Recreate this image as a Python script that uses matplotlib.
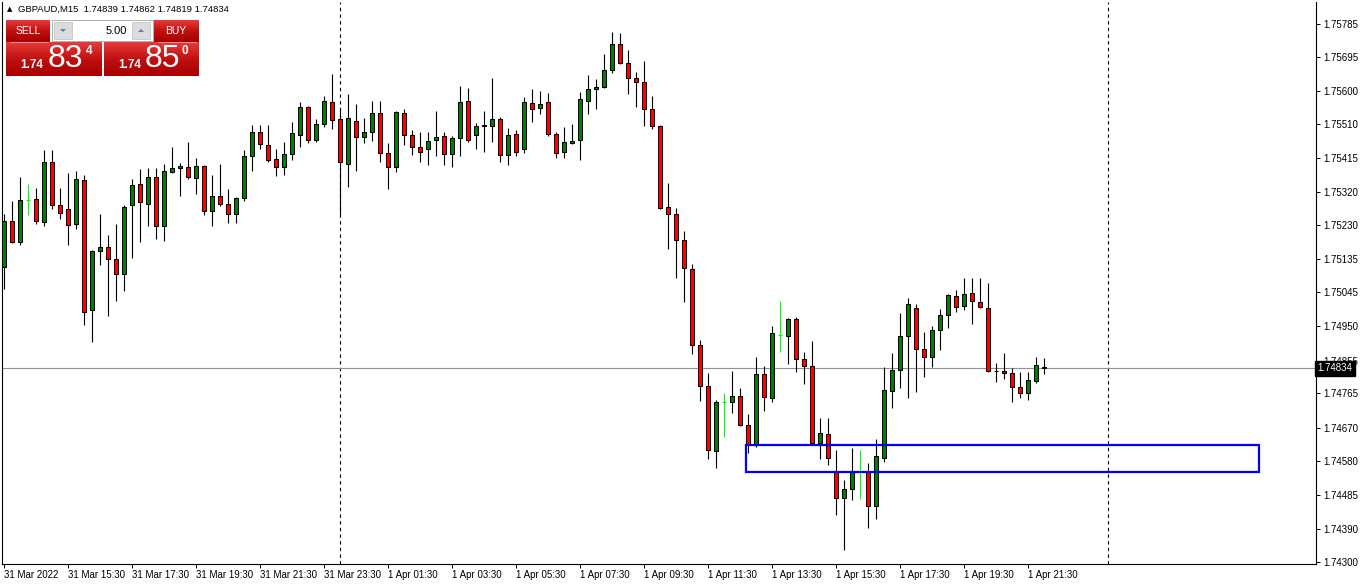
import numpy as np
import matplotlib
matplotlib.use("Agg")
import matplotlib.pyplot as plt
from matplotlib.patches import Rectangle, Polygon
from matplotlib.colors import LinearSegmentedColormap

plt.rcParams['font.family'] = ['Liberation Sans', 'DejaVu Sans']

# GBPAUD M15 bars, 31 Mar 13:30 -> 1 Apr 22:00
opens = [
    1.75114, 1.75241, 1.75183, 1.75299, 1.75302, 1.75238, 1.75404, 1.75285, 1.75274, 1.75233,
    1.75354, 1.74995, 1.75158, 1.75169, 1.75136, 1.75095, 1.75285, 1.75343, 1.75288, 1.75362,
    1.75227, 1.75376, 1.75387, 1.75390, 1.75360, 1.75393, 1.75269, 1.75310, 1.75288, 1.75260,
    1.75305, 1.75420, 1.75487, 1.75451, 1.75412, 1.75390, 1.75426, 1.75478, 1.75556, 1.75465,
    1.75509, 1.75569, 1.75523, 1.75398, 1.75517, 1.75473, 1.75487, 1.75539, 1.75429, 1.75390,
    1.75539, 1.75478, 1.75445, 1.75440, 1.75465, 1.75476, 1.75426, 1.75470, 1.75572, 1.75478,
    1.75502, 1.75503, 1.75523, 1.75423, 1.75481, 1.75440, 1.75567, 1.75553, 1.75569, 1.75481,
    1.75431, 1.75456, 1.75465, 1.75572, 1.75605, 1.75611, 1.75658, 1.75730, 1.75677, 1.75636,
    1.75625, 1.75550, 1.75503, 1.75280, 1.75260, 1.75189, 1.75109, 1.74899, 1.74786, 1.74606,
    1.74741, 1.74741, 1.74758, 1.74678, 1.74623, 1.74819, 1.74753, 1.74926, 1.74924, 1.74971,
    1.74860, 1.74841, 1.74628, 1.74653, 1.74551, 1.74477, 1.74501, 1.74551, 1.74548, 1.74454,
    1.74587, 1.74772, 1.74830, 1.74924, 1.75001, 1.74888, 1.74866, 1.74940, 1.74982, 1.75034,
    1.75006, 1.75042, 1.75017, 1.75001, 1.74827, 1.74827, 1.74822, 1.74783, 1.74766, 1.74799,
    1.74839,
]
highs = [
    1.75260, 1.75296, 1.75362, 1.75343, 1.75332, 1.75437, 1.75437, 1.75332, 1.75374, 1.75379,
    1.75368, 1.75161, 1.75260, 1.75202, 1.75233, 1.75285, 1.75357, 1.75385, 1.75387, 1.75387,
    1.75398, 1.75445, 1.75401, 1.75459, 1.75415, 1.75396, 1.75368, 1.75398, 1.75329, 1.75307,
    1.75437, 1.75506, 1.75506, 1.75506, 1.75440, 1.75459, 1.75514, 1.75569, 1.75558, 1.75523,
    1.75586, 1.75647, 1.75553, 1.75592, 1.75564, 1.75525, 1.75572, 1.75572, 1.75456, 1.75545,
    1.75550, 1.75492, 1.75487, 1.75487, 1.75545, 1.75487, 1.75476, 1.75614, 1.75608, 1.75512,
    1.75545, 1.75636, 1.75528, 1.75498, 1.75492, 1.75583, 1.75605, 1.75600, 1.75594, 1.75487,
    1.75500, 1.75509, 1.75597, 1.75644, 1.75633, 1.75702, 1.75763, 1.75760, 1.75713, 1.75652,
    1.75683, 1.75586, 1.75506, 1.75346, 1.75277, 1.75213, 1.75122, 1.74913, 1.74822, 1.74747,
    1.74766, 1.74827, 1.74780, 1.74708, 1.74866, 1.74841, 1.74951, 1.75020, 1.74973, 1.74976,
    1.74879, 1.74910, 1.74697, 1.74697, 1.74609, 1.74526, 1.74615, 1.74609, 1.74573, 1.74639,
    1.74838, 1.74877, 1.74987, 1.75029, 1.75012, 1.74935, 1.74951, 1.74998, 1.75040, 1.75051,
    1.75084, 1.75084, 1.75084, 1.75070, 1.74849, 1.74877, 1.74835, 1.74824, 1.74824, 1.74866,
    1.74862,
]
lows = [
    1.75053, 1.75180, 1.75175, 1.75258, 1.75233, 1.75227, 1.75274, 1.75247, 1.75175, 1.75219,
    1.74954, 1.74907, 1.75120, 1.74979, 1.75020, 1.75048, 1.75139, 1.75183, 1.75227, 1.75191,
    1.75186, 1.75374, 1.75310, 1.75357, 1.75316, 1.75258, 1.75227, 1.75282, 1.75236, 1.75236,
    1.75296, 1.75379, 1.75440, 1.75404, 1.75365, 1.75368, 1.75409, 1.75445, 1.75456, 1.75459,
    1.75500, 1.75495, 1.75258, 1.75335, 1.75379, 1.75456, 1.75462, 1.75404, 1.75329, 1.75376,
    1.75451, 1.75423, 1.75404, 1.75396, 1.75420, 1.75396, 1.75390, 1.75420, 1.75459, 1.75440,
    1.75431, 1.75459, 1.75404, 1.75396, 1.75420, 1.75429, 1.75514, 1.75536, 1.75476, 1.75415,
    1.75415, 1.75453, 1.75409, 1.75536, 1.75550, 1.75608, 1.75650, 1.75674, 1.75592, 1.75556,
    1.75503, 1.75495, 1.75274, 1.75164, 1.75084, 1.75017, 1.74874, 1.74744, 1.74584, 1.74559,
    1.74645, 1.74711, 1.74675, 1.74601, 1.74617, 1.74717, 1.74741, 1.74879, 1.74846, 1.74824,
    1.74791, 1.74623, 1.74584, 1.74568, 1.74430, 1.74333, 1.74471, 1.74474, 1.74394, 1.74419,
    1.74576, 1.74725, 1.74780, 1.74753, 1.74769, 1.74810, 1.74838, 1.74885, 1.74946, 1.74990,
    1.74995, 1.74957, 1.75001, 1.74824, 1.74797, 1.74805, 1.74741, 1.74753, 1.74747, 1.74794,
    1.74819,
]
closes = [
    1.75241, 1.75183, 1.75299, 1.75299, 1.75241, 1.75404, 1.75285, 1.75263, 1.75230, 1.75357,
    1.74990, 1.75158, 1.75169, 1.75136, 1.75095, 1.75280, 1.75340, 1.75293, 1.75362, 1.75227,
    1.75379, 1.75387, 1.75393, 1.75362, 1.75393, 1.75269, 1.75310, 1.75288, 1.75260, 1.75305,
    1.75420, 1.75487, 1.75454, 1.75409, 1.75390, 1.75426, 1.75484, 1.75556, 1.75465, 1.75509,
    1.75572, 1.75520, 1.75404, 1.75525, 1.75473, 1.75487, 1.75539, 1.75429, 1.75390, 1.75542,
    1.75478, 1.75445, 1.75431, 1.75462, 1.75473, 1.75426, 1.75470, 1.75569, 1.75465, 1.75503,
    1.75505, 1.75523, 1.75423, 1.75478, 1.75431, 1.75569, 1.75550, 1.75564, 1.75481, 1.75429,
    1.75459, 1.75462, 1.75578, 1.75605, 1.75611, 1.75658, 1.75730, 1.75677, 1.75636, 1.75625,
    1.75550, 1.75503, 1.75277, 1.75260, 1.75189, 1.75111, 1.74899, 1.74786, 1.74609, 1.74741,
    1.74741, 1.74758, 1.74678, 1.74623, 1.74819, 1.74755, 1.74932, 1.74926, 1.74971, 1.74860,
    1.74841, 1.74628, 1.74656, 1.74587, 1.74477, 1.74501, 1.74551, 1.74551, 1.74454, 1.74592,
    1.74775, 1.74830, 1.74924, 1.75012, 1.74888, 1.74866, 1.74940, 1.74982, 1.75037, 1.75004,
    1.75040, 1.75020, 1.75004, 1.74827, 1.74826, 1.74822, 1.74783, 1.74766, 1.74802, 1.74844,
    1.74834,
]

time_labels = ["31 Mar 2022", "31 Mar 15:30", "31 Mar 17:30", "31 Mar 19:30", "31 Mar 21:30",
               "31 Mar 23:30", "1 Apr 01:30", "1 Apr 03:30", "1 Apr 05:30", "1 Apr 07:30",
               "1 Apr 09:30", "1 Apr 11:30", "1 Apr 13:30", "1 Apr 15:30", "1 Apr 17:30",
               "1 Apr 19:30", "1 Apr 21:30"]
label_every = 8            # bars between time labels (2 hours)
day_breaks = [42, 138]     # bar index of 1 Apr 00:00 and 2 Apr 00:00

price_ticks = [1.75785, 1.75695, 1.75600, 1.75510, 1.75415, 1.75320, 1.75230, 1.75135,
               1.75045, 1.74950, 1.74855, 1.74765, 1.74670, 1.74580, 1.74485, 1.74390, 1.74300]

zone_start, zone_end = 92.75, 156.9   # bar positions of the drawn rectangle
zone_low, zone_high = 1.74549, 1.74624

W, H = 1362, 585
fig = plt.figure(figsize=(W / 100, H / 100), dpi=100)
ax = fig.add_axes([2 / W, (H - 564) / H, (1316 - 2) / W, (564 - 2) / H])
ax.set_xlim(-0.25, 164)
ax.set_ylim(1.742944, 1.758455)

BULL, BEAR, DOJI = "#008000", "#ff0000", "#00ff00"
bw = 0.5
for i in range(len(opens)):
    o, h, l, c = opens[i], highs[i], lows[i], closes[i]
    if o == c:
        ax.vlines(i, l, h, color=DOJI, lw=0.8, zorder=3)
        ax.hlines(o, i - 0.3, i + 0.3, color=DOJI, lw=0.8, zorder=3)
        continue
    ax.vlines(i, l, h, color="black", lw=0.8, zorder=2)
    ax.add_patch(Rectangle((i - bw / 2, min(o, c)), bw, abs(c - o),
                           facecolor=BULL if c > o else BEAR, edgecolor="black",
                           lw=0.75, zorder=3))

# day separators
for b in day_breaks:
    ax.axvline(b, color="black", lw=0.8, ls=(0, (3, 3)), zorder=1)

# current price line
ax.axhline(closes[-1], color="#8a9298", lw=0.8, zorder=1)

# zone rectangle
ax.add_patch(Rectangle((zone_start, zone_low), zone_end - zone_start, zone_high - zone_low,
                       fill=False, edgecolor="#0000ff", lw=1.6, zorder=4))

ax.spines["top"].set_visible(False)
for s in ["left", "right", "bottom"]:
    ax.spines[s].set_linewidth(0.8)

ax.set_xticks(np.arange(len(time_labels)) * label_every)
ax.set_xticklabels(time_labels, ha="left", fontsize=7)
ax.tick_params(axis="x", length=3, width=0.7, pad=1)
ax.yaxis.tick_right()
ax.set_yticks(price_ticks)
ax.set_yticklabels([f"{p:.5f}" for p in price_ticks], fontsize=7)
ax.tick_params(axis="y", length=3, width=0.7, pad=2)

ax.text(1.0012, closes[-1], f"{closes[-1]:.5f}", transform=ax.get_yaxis_transform(),
        fontsize=7, color="white", va="center", ha="left", zorder=10,
        bbox=dict(boxstyle="square,pad=0.25", fc="black", ec="black"))

# one-click trading panel overlay (pixel coordinates)
ui = fig.add_axes([0, 0, 1, 1], zorder=20)
ui.set_xlim(0, W)
ui.set_ylim(H, 0)
ui.axis("off")

grad = np.linspace(0, 1, 50).reshape(-1, 1)
reds = LinearSegmentedColormap.from_list("r", ["#e83a3a", "#c01010", "#a80000"])
for (x0, y0, w, h) in [(6, 20, 44, 22), (154, 20, 45, 22), (6, 42, 96, 34), (104, 42, 95, 34)]:
    ui.imshow(grad, extent=(x0, x0 + w, y0 + h, y0), cmap=reds, aspect="auto", zorder=1)
ui.plot([10, 48], [42, 42], color="#f29090", lw=0.7, zorder=2)
ui.plot([158, 196], [42, 42], color="#f29090", lw=0.7, zorder=2)

ui.add_patch(Rectangle((52, 20), 101, 21, fc="white", ec="#b0b0b0", lw=0.7, zorder=2))
for bx in (54, 132):
    ui.add_patch(Rectangle((bx, 22), 18, 17, fc="#dcdcdc", ec="#c0c0c0", lw=0.5, zorder=3))
ui.add_patch(Polygon([[60, 29], [66, 29], [63, 32]], fc="#6a78a8", zorder=4))
ui.add_patch(Polygon([[138, 32], [144, 32], [141, 29]], fc="#6a78a8", zorder=4))
ui.text(127, 30.5, "5.00", ha="right", va="center", fontsize=8, color="black", zorder=5)

ui.text(28, 31, "SELL", ha="center", va="center", fontsize=7.5, color="white", zorder=5)
ui.text(176, 31, "BUY", ha="center", va="center", fontsize=7.5, color="white", zorder=5)

for (x_small, x_big, x_sup, big, sup) in [(32, 65, 89, "83", "4"), (130, 162, 185, "85", "0")]:
    ui.text(x_small, 65, "1.74", ha="center", va="center", fontsize=8.5,
            fontweight="bold", color="white", zorder=5)
    ui.text(x_big, 59, big, ha="center", va="center", fontsize=23, color="white", zorder=5)
    ui.text(x_sup, 51, sup, ha="center", va="center", fontsize=8.5,
            fontweight="bold", color="white", zorder=5)

ui.text(10, 9, "\u25b2", ha="center", va="center", fontsize=5, color="black",
        family="DejaVu Sans")
ui.text(18, 9.5, "GBPAUD,M15  1.74839 1.74862 1.74819 1.74834", ha="left", va="center",
        fontsize=6.8, color="black")

fig.savefig("out.png", dpi=100, facecolor="white")
